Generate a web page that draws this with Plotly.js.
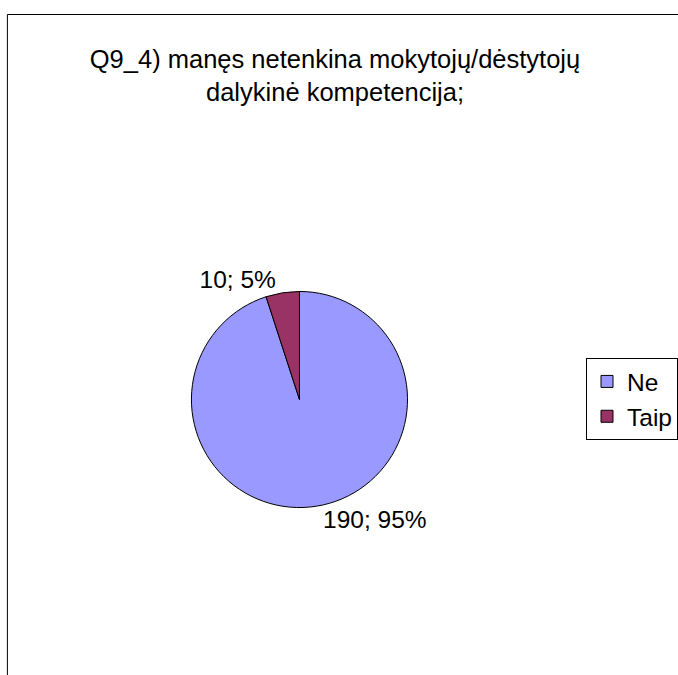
<!DOCTYPE html>
<html>
<head>
<meta charset="utf-8">
<script src="https://cdn.plot.ly/plotly-3.0.1.min.js"></script>
<style>html,body{margin:0;padding:0;background:#fff;}#chart{width:678px;height:675px;}</style>
</head>
<body>
<div id="chart"></div>
<script>
const categories = ['Ne', 'Taip'];
const values = [190, 10];
const colors = ['#9999FF', '#993366'];
const titleLines = ['Q9_4) manęs netenkina mokytojų/dėstytojų', 'dalykinė kompetencija;'];

const W = 678, H = 675;
const FONT = 'Liberation Sans, Arial, sans-serif';
const trace = {
  type: 'pie',
  labels: categories,
  values: values,
  sort: false,
  direction: 'clockwise',
  rotation: 0,
  marker: {colors: colors, line: {color: '#000000', width: 1}},
  texttemplate: '%{value}; %{percent:.0%}',
  textposition: 'outside',
  textfont: {family: FONT, size: 24.5, color: '#000'},
  outsidetextfont: {family: FONT, size: 24.5, color: '#000'},
  hoverinfo: 'label+value+percent',
  domain: {x: [194 / W, 413 / W], y: [1 - 508 / H, 1 - 291 / H]},
  automargin: false
};

const layout = {
  width: W, height: H,
  margin: {l: 0, r: 0, t: 0, b: 0},
  paper_bgcolor: '#ffffff',
  font: {family: FONT, size: 24.5, color: '#000'},
  title: {
    text: titleLines.join('<br>'),
    font: {family: FONT, size: 25.5, color: '#000'},
    x: 335 / W, xanchor: 'center',
    y: 1 - 68 / H, yanchor: 'top'
  },
  showlegend: true,
  legend: {
    x: 594 / W, xanchor: 'left',
    y: 1 - 358 / H, yanchor: 'top',
    bordercolor: '#000', borderwidth: 1,
    bgcolor: '#ffffff',
    font: {family: FONT, size: 24.5, color: '#000'}
  },
  shapes: [{
    type: 'rect', xref: 'paper', yref: 'paper',
    x0: 7.5 / W, x1: 1.05, y0: -0.05, y1: 1 - 14.5 / H,
    line: {color: '#000', width: 1}, fillcolor: 'rgba(0,0,0,0)', layer: 'below'
  }]
};

Plotly.newPlot('chart', [trace], layout, {displayModeBar: false, staticPlot: true});
</script>
</body>
</html>
